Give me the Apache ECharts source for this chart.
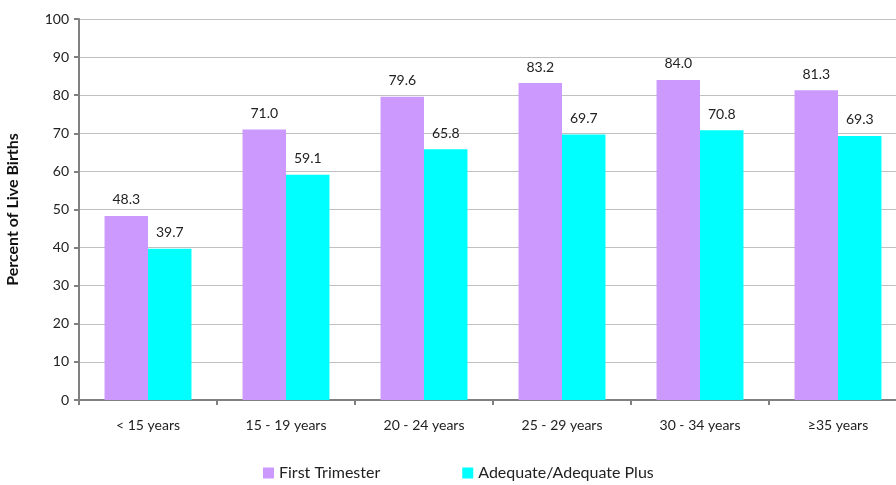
<!DOCTYPE html>
<html>
<head>
<meta charset="utf-8">
<script src="https://cdn.jsdelivr.net/npm/echarts@6/dist/echarts.min.js"></script>
<style>
  html, body { margin: 0; padding: 0; background: #fff; }
  #chart { width: 896px; height: 485px; }
</style>
</head>
<body>
<div id="chart"></div>
<script>
"use strict";

const categories = ["< 15 years", "15 - 19 years", "20 - 24 years", "25 - 29 years", "30 - 34 years", "\u226535 years"];
const firstTrimester = [48.3, 71.0, 79.6, 83.2, 84.0, 81.3];
const adequatePlus = [39.7, 59.1, 65.8, 69.7, 70.8, 69.3];
const yTicks = [0, 100, 10];

const font = "Lato, 'DejaVu Sans', sans-serif";

function barSeries(name, values, color) {
    return {
        name: name,
        type: "bar",
        data: values,
        barGap: "0%",
        barCategoryGap: "37%",
        itemStyle: { color: color },
        label: {
            show: true,
            position: "top",
            distance: 9,
            color: "#222",
            fontFamily: font,
            fontSize: 14,
            formatter: p => p.value.toFixed(1)
        }
    };
}

let chart = echarts.init(document.getElementById("chart"));
chart.setOption({
    animation: false,
    grid: { left: 79, right: -11, top: 19, bottom: 85, outerBoundsMode: "none", containLabel: false },
    legend: {
        bottom: -1,
        left: 258,
        itemGap: 82,
        itemWidth: 11,
        itemHeight: 11,
        icon: "rect",
        textStyle: { fontFamily: font, fontSize: 16, color: "#222" },
        data: ["First Trimester", "Adequate/Adequate Plus"]
    },
    xAxis: {
        type: "category",
        data: categories,
        axisLine: { lineStyle: { color: "#808080", width: 2 } },
        axisTick: { show: true, length: 5, lineStyle: { color: "#808080", width: 2 } },
        axisLabel: { color: "#222", fontFamily: font, fontSize: 14, margin: 18 }
    },
    yAxis: {
        type: "value",
        min: yTicks[0],
        max: yTicks[1],
        interval: yTicks[2],
        name: "Percent of Live Births",
        nameLocation: "middle",
        nameGap: 58,
        nameTextStyle: { fontFamily: font, fontSize: 16, fontWeight: "bold", color: "#111" },
        axisLine: { show: true, lineStyle: { color: "#808080", width: 2 } },
        axisTick: { show: true, length: 5, lineStyle: { color: "#808080", width: 2 } },
        axisLabel: { color: "#222", fontFamily: font, fontSize: 14, margin: 10 },
        splitLine: { lineStyle: { color: "#c0c0c0", width: 1 } }
    },
    series: [
        barSeries("First Trimester", firstTrimester, "#cc99ff"),
        barSeries("Adequate/Adequate Plus", adequatePlus, "#00ffff")
    ]
});
</script>
</body>
</html>
